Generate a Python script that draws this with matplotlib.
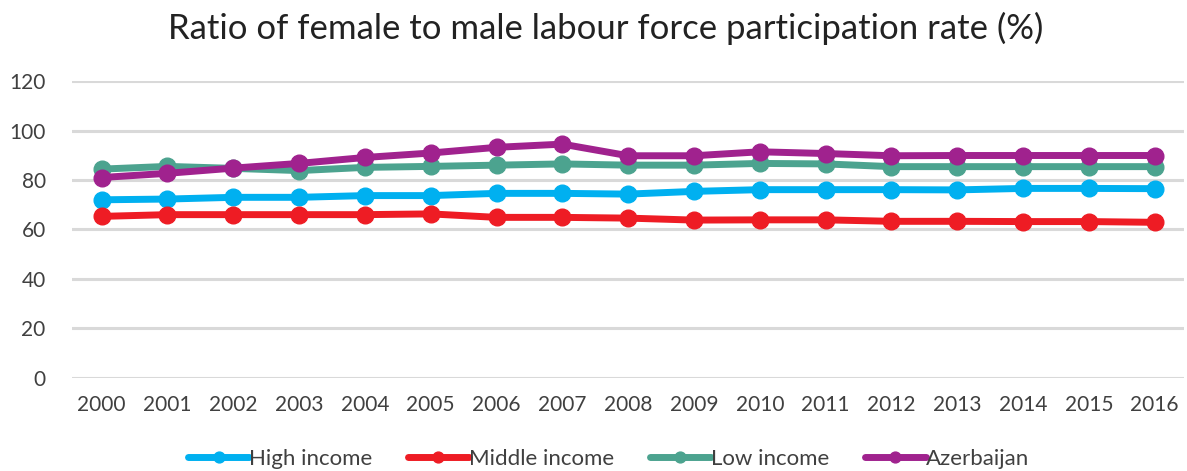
import matplotlib
matplotlib.use("Agg")
import matplotlib.pyplot as plt

plt.rcParams['font.family'] = ['Lato', 'DejaVu Sans']

years = [str(y) for y in range(2000, 2017)]
high_income = [72.0, 72.3, 73.0, 73.0, 73.7, 73.7, 74.6, 74.6, 74.3, 75.4, 76.1, 76.1, 76.1, 76.0, 76.6, 76.6, 76.5]
middle_income = [65.3, 66.0, 66.0, 66.0, 66.0, 66.3, 64.9, 64.9, 64.6, 63.8, 63.9, 63.9, 63.3, 63.3, 63.2, 63.2, 62.9]
low_income = [84.4, 85.5, 84.7, 83.8, 85.1, 85.5, 86.0, 86.5, 86.0, 86.0, 86.7, 86.5, 85.4, 85.4, 85.4, 85.4, 85.4]
azerbaijan = [81.0, 82.7, 84.8, 86.7, 89.1, 90.9, 93.2, 94.5, 89.8, 89.8, 91.4, 90.7, 89.8, 89.9, 89.9, 89.9, 89.9]

series = [
    ("High income", high_income, "#00b0f0"),
    ("Middle income", middle_income, "#ee1c24"),
    ("Low income", low_income, "#4ca38f"),
    ("Azerbaijan", azerbaijan, "#a0228e"),
]

fig = plt.figure(figsize=(11.87, 4.71), dpi=100)
ax = fig.add_axes([0.0607, 0.1975, 0.937, 0.6305])

x = list(range(len(years)))
for name, vals, col in series:
    ax.plot(x, vals, color=col, lw=5, marker='o', markersize=12, label=name,
            solid_capstyle='round')

ax.set_ylim(0, 120)
ax.set_yticks(range(0, 121, 20))
ax.set_xlim(-0.45, len(years) - 0.55)
ax.set_xticks(x)
ax.set_xticklabels(years)
ax.grid(axis='y', color='#d9d9d9', lw=2.2)
ax.set_axisbelow(True)
for s in ax.spines.values():
    s.set_visible(False)
ax.tick_params(length=0, labelsize=15, colors='#404040')
ax.tick_params(axis='x', pad=12)
ax.tick_params(axis='y', pad=19)

fig.suptitle("Ratio of female to male labour force participation rate (%)",
             fontsize=25, color='#222222', x=0.51, y=0.975)

fig.legend(loc='center', bbox_to_anchor=(0.5126, 0.025), ncol=4, frameon=False,
           fontsize=16, handlelength=2.75, handletextpad=0.0, columnspacing=1.6,
           markerscale=0.65, labelcolor='#404040')

fig.savefig("out.png", dpi=100)
